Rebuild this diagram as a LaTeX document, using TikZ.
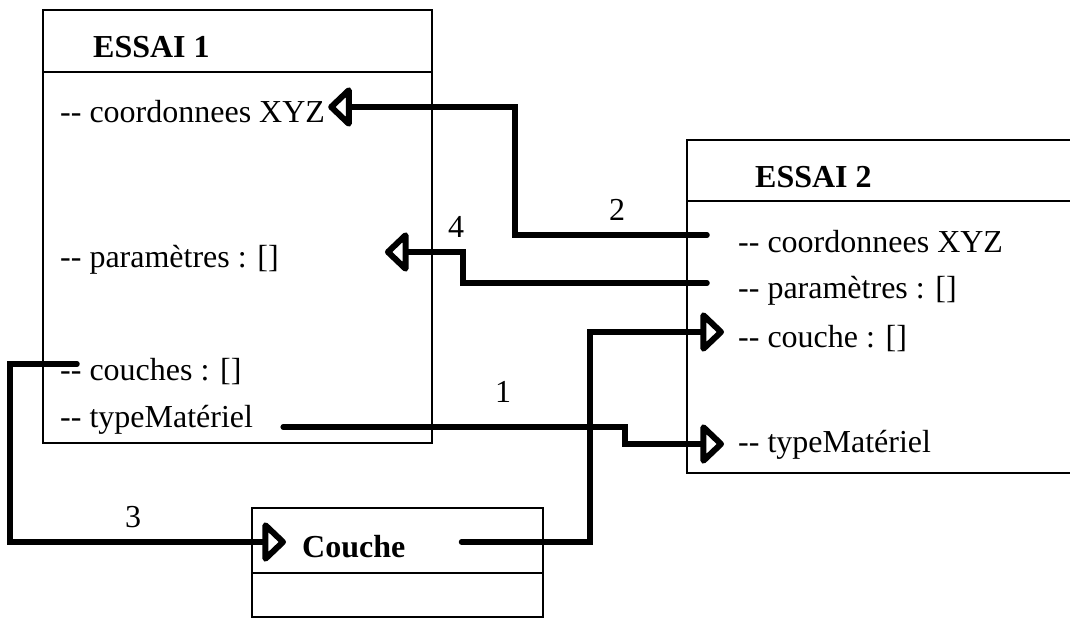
\documentclass[tikz,border=0pt]{standalone}
\usepackage{fontspec}
\setmainfont{Liberation Serif}
\usetikzlibrary{arrows.meta,positioning}

\newcommand{\att}[1]{-\kern0pt- #1}

\begin{document}
\begin{tikzpicture}[
  x=1pt, y=-1pt,
  box/.style={draw, line width=2pt},
  attr/.style={anchor=base west, inner sep=0pt, font=\fontsize{32}{36}\selectfont},
  title/.style={anchor=base west, inner sep=0pt, font=\fontsize{32}{36}\selectfont\bfseries},
  num/.style={inner sep=0pt, font=\fontsize{32}{36}\selectfont},
  link/.style={line width=5.5pt, line cap=round},
  openarrow/.style={-{Triangle[open, length=25pt, width=46pt, line width=6pt, round]}}
]
  \useasboundingbox (0,0) rectangle (1070,620);

  % class boxes
  \draw[box] (43,10) rectangle (432,443);
  \draw[box] (43,72) -- (432,72);
  \draw[box] (1070,140) -- (687,140) -- (687,473) -- (1070,473);
  \draw[box] (687,201) -- (1070,201);
  \draw[box] (252,508) rectangle (543,617);
  \draw[box] (252,573) -- (543,573);

  % ESSAI 1
  \node[title] (e1title) at (93,58) {ESSAI 1};
  \node[attr] (e1coord) at (60,123) {\att{coordonnees XYZ}};
  \node[attr] (e1param) at (60,267) {\att{paramètres : []}};
  \node[attr] (e1couches) at (60,380) {\att{couches : []}};
  \node[attr] (e1type) at (60,427) {\att{typeMatériel}};

  % ESSAI 2
  \node[title] (e2title) at (755,188) {ESSAI 2};
  \node[attr] (e2coord) at (738,252) {\att{coordonnees XYZ}};
  \node[attr] (e2param) at (738,298) {\att{paramètres : []}};
  \node[attr] (e2couche) at (738,347) {\att{couche : []}};
  \node[attr] (e2type) at (738,452) {\att{typeMatériel}};

  % Couche
  \node[title] (ctitle) at (302,557) {Couche};

  % links
  \draw[link, openarrow] ([xshift=30pt]e1type.base east) -| (625,436)
    |- ([xshift=-14pt,yshift=8pt]e2type.base west);
  \draw[link, openarrow] ([xshift=-31pt,yshift=17pt]e2coord.base west) -| (515,170)
    |- ([xshift=3pt,yshift=16pt]e1coord.base east);
  \draw[link, openarrow] ([xshift=17pt,yshift=16pt]e1couches.base west) -| (10,450)
    |- ([xshift=-16pt,yshift=15pt]ctitle.base west);
  \draw[link, openarrow] ([xshift=-31pt,yshift=15pt]e2param.base west) -| (463,265)
    |- ([xshift=106pt,yshift=15pt]e1param.base east);
  \draw[link, openarrow] ([xshift=56pt,yshift=15pt]ctitle.base east) -| (590,440)
    |- ([xshift=-14pt,yshift=15pt]e2couche.base west);

  % link numbers
  \node[num] (n1) at (503,392) {1};
  \node[num] (n2) at (617,210) {2};
  \node[num] (n3) at (133,517) {3};
  \node[num] (n4) at (456,227) {4};
\end{tikzpicture}
\end{document}
